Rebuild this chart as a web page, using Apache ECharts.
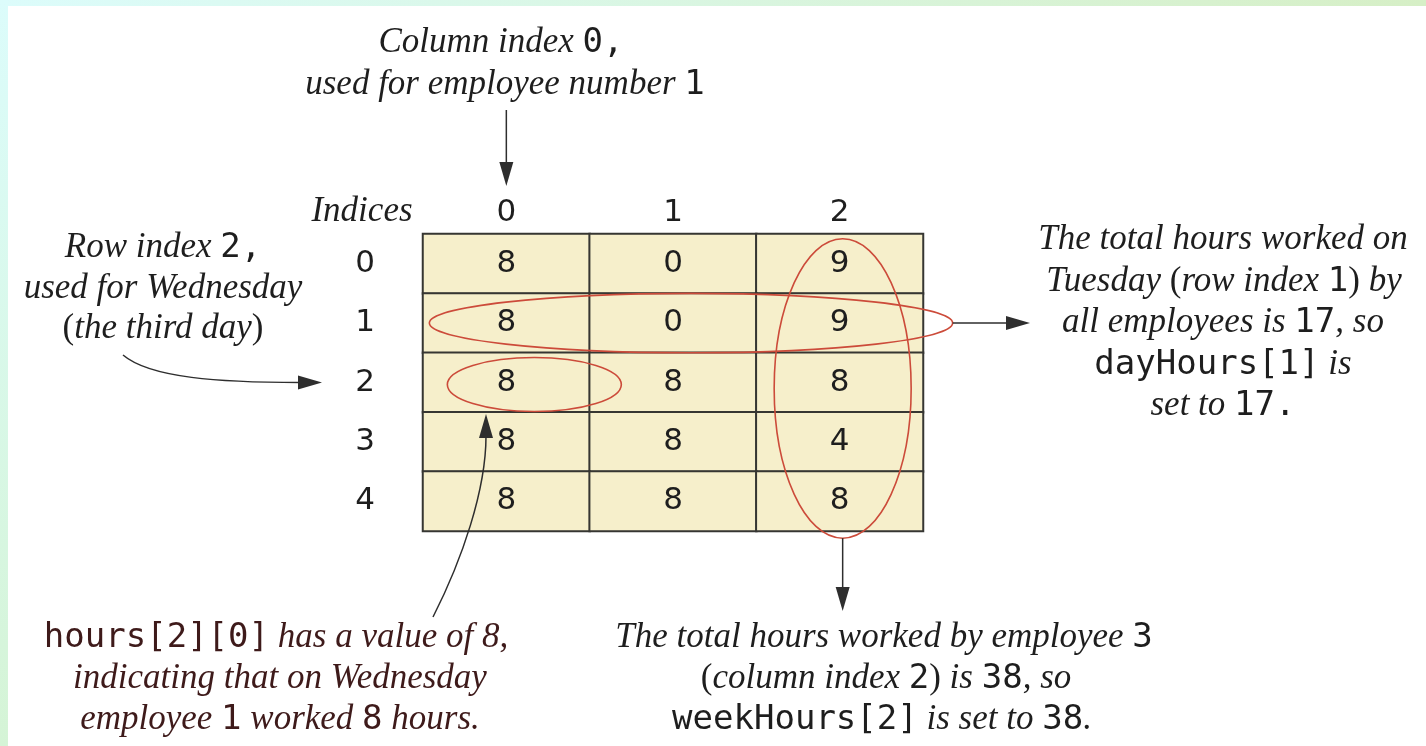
<!DOCTYPE html>
<html>
<head>
<meta charset="utf-8">
<title>hours array</title>
<script src="https://cdn.jsdelivr.net/npm/echarts@6/dist/echarts.min.js"></script>
<style>
  html, body { margin: 0; padding: 0; background: #fff; }
  #main { width: 1426px; height: 746px; }
</style>
</head>
<body>
<div id="main"></div>
<script>
// hours[row][col] : rows are days (index 0..4), cols are employees (index 0..2)
var hours = [
    [8, 0, 9],
    [8, 0, 9],
    [8, 8, 8],
    [8, 8, 4],
    [8, 8, 8]
];
var colLabels = ['0', '1', '2'];
var rowLabels = ['0', '1', '2', '3', '4'];

var dayRow = 1;     // row summed by dayHours[1]
var weekCol = 2;    // column summed by weekHours[2]
var pickRow = 2, pickCol = 0;   // hours[2][0]

var dayTotal = hours[dayRow].reduce(function (a, b) { return a + b; }, 0);
var weekTotal = hours.reduce(function (a, r) { return a + r[weekCol]; }, 0);

var cells = [];
hours.forEach(function (row, r) {
    row.forEach(function (v, c) { cells.push([c, r, v]); });
});

var SERIF = '"Liberation Serif", "DejaVu Serif", serif';
var MONO = '"DejaVu Sans Mono", monospace';
var SANS = '"DejaVu Sans", sans-serif';
var INK = '#1e1e1e';
var IT = 35, MO = 34;   // caption font sizes

var myChart = echarts.init(document.getElementById('main'));

myChart.setOption({
    backgroundColor: '#ffffff',
    animation: false,
    grid: { left: 423, top: 234, right: 503, bottom: 215 },
    xAxis: {
        type: 'category',
        position: 'top',
        data: colLabels,
        axisLine: { show: false },
        axisTick: { show: false },
        splitLine: { show: false },
        axisLabel: { fontFamily: SANS, fontSize: 31, color: INK, margin: 6 }
    },
    yAxis: {
        type: 'category',
        inverse: true,
        data: rowLabels,
        axisLine: { show: false },
        axisTick: { show: false },
        splitLine: { show: false },
        axisLabel: { fontFamily: SANS, fontSize: 31, color: INK, margin: 48 }
    },
    visualMap: {
        show: false,
        min: 0,
        max: 9,
        dimension: 2,
        inRange: { color: ['#f6efcb', '#f6efcb'] }
    },
    series: [{
        type: 'heatmap',
        data: cells,
        itemStyle: { borderColor: '#363632', borderWidth: 2 },
        label: {
            show: true,
            fontFamily: SANS,
            fontSize: 31,
            color: INK,
            formatter: function (p) { return String(p.value[2]); }
        },
        emphasis: { disabled: true }
    }]
});

// ---- annotations (ellipses, arrows, captions) ----
function px(c, r) { return myChart.convertToPixel({ gridIndex: 0 }, [c, r]); }
var bandW = px(1, 0)[0] - px(0, 0)[0];
var bandH = px(0, 1)[1] - px(0, 0)[1];

var RED = '#cc4b3a';
var ARROW = '#2e2e2e';

function ellipse(cx, cy, rx, ry) {
    return {
        type: 'ellipse', z: 10,
        shape: { cx: cx, cy: cy, rx: rx, ry: ry },
        style: { fill: null, stroke: RED, lineWidth: 1.6 }
    };
}
function head(tx, ty, dx, dy) {
    // triangle head pointing along (dx,dy), tip at (tx,ty)
    var len = Math.sqrt(dx * dx + dy * dy);
    var ux = dx / len, uy = dy / len;
    var L = 24, W = 7;
    var bx = tx - ux * L, by = ty - uy * L;
    return {
        type: 'polygon', z: 10,
        shape: { points: [[tx, ty], [bx - uy * W, by + ux * W], [bx + uy * W, by - ux * W]] },
        style: { fill: ARROW }
    };
}
function straight(x1, y1, x2, y2) {
    var dx = x2 - x1, dy = y2 - y1;
    var len = Math.sqrt(dx * dx + dy * dy);
    return [{
        type: 'line', z: 10,
        shape: { x1: x1, y1: y1, x2: x2 - dx / len * 20, y2: y2 - dy / len * 20 },
        style: { stroke: ARROW, lineWidth: 1.5 }
    }, head(x2, y2, dx, dy)];
}
function curved(x1, y1, c1x, c1y, c2x, c2y, x2, y2) {
    var d = Math.hypot(x2 - c2x, y2 - c2y);
    return [{
        type: 'bezierCurve', z: 10,
        shape: { x1: x1, y1: y1, cpx1: c1x, cpy1: c1y, cpx2: c2x, cpy2: c2y, x2: x2, y2: y2 },
        style: { fill: null, stroke: ARROW, lineWidth: 1.5 }
    }, head(x2 + (x2 - c2x) / d * 22, y2 + (y2 - c2y) / d * 22, x2 - c2x, y2 - c2y)];
}

function textLine(x, y, str, color) {
    var col = color || INK;
    return {
        type: 'text', z: 12,
        x: x, y: y,
        style: {
            text: str,
            align: 'center',
            verticalAlign: 'middle',
            fill: col,
            rich: {
                i: { fontFamily: SERIF, fontStyle: 'italic', fontSize: IT, fill: col },
                m: { fontFamily: MONO, fontSize: MO, fill: col },
                t: { fontFamily: SERIF, fontSize: IT, fill: col }
            }
        }
    };
}

var rowC = px(1, dayRow);
var pickC = px(pickCol, pickRow);
var colC = px(weekCol, 2);

var rowEll = { cx: rowC[0] + 18, cy: rowC[1], rx: bandW * 1.57, ry: bandH * 0.5 };
var pickEll = { cx: pickC[0] + 28, cy: pickC[1] + 2, rx: 87, ry: 27 };
var colEll = { cx: colC[0] + 3, cy: colC[1] + 6, rx: 68.5, ry: bandH * 2.52 };

var g = [];
// frame strips
g.push({
    type: 'rect', z: 0, shape: { x: 0, y: 0, width: 1426, height: 6 },
    style: { fill: new echarts.graphic.LinearGradient(0, 0, 1, 0, [
        { offset: 0, color: '#dcfcfb' }, { offset: 1, color: '#d6efc6' }]) }
});
g.push({
    type: 'rect', z: 0, shape: { x: 0, y: 0, width: 8, height: 746 },
    style: { fill: new echarts.graphic.LinearGradient(0, 0, 0, 1, [
        { offset: 0, color: '#dcfcfb' }, { offset: 1, color: '#d5f4d6' }]) }
});

g.push(ellipse(rowEll.cx, rowEll.cy, rowEll.rx, rowEll.ry));
g.push(ellipse(pickEll.cx, pickEll.cy, pickEll.rx, pickEll.ry));
g.push(ellipse(colEll.cx, colEll.cy, colEll.rx, colEll.ry));

var col0 = px(0, 0);
var row2 = px(0, 2);
g = g.concat(straight(col0[0], 110, col0[0], 186));
g = g.concat(straight(rowEll.cx + rowEll.rx, rowEll.cy, 1030, rowEll.cy));
g = g.concat(straight(colEll.cx, colEll.cy + colEll.ry, colEll.cx, 611));
g = g.concat(curved(123, 355, 150, 378, 220, row2[1], 300, row2[1]));
g = g.concat(curved(433, 617, 462, 560, 486, 490, 486, 436));

// captions
g.push(textLine(501, 43, '{i|Column index }{m|0,}'));
g.push(textLine(505, 85, '{i|used for employee number }{m|1}'));
g.push(textLine(362, 212, '{i|Indices}'));

g.push(textLine(163, 248, '{i|Row index }{m|2,}'));
g.push(textLine(163, 289, '{i|used for Wednesday}'));
g.push(textLine(163, 329, '{t|(}{i|the third day}{t|)}'));

g.push(textLine(1223, 240, '{i|The total hours worked on}'));
g.push(textLine(1224, 282, '{i|Tuesday }{t|(}{i|row index }{m|' + dayRow + '}{t|)}{i| by}'));
g.push(textLine(1223, 323, '{i|all employees is }{m|' + dayTotal + '}{i|, so}'));
g.push(textLine(1223, 365, '{m|dayHours[' + dayRow + ']}{i| is}'));
g.push(textLine(1223, 406, '{i|set to }{m|' + dayTotal + '.}'));

var MAROON = '#3e1a1a';
g.push(textLine(276, 638, '{m|hours[' + pickRow + '][' + pickCol + ']}{i| has a value of 8,}', MAROON));
g.push(textLine(280, 679, '{i|indicating that on Wednesday}', MAROON));
g.push(textLine(280, 720, '{i|employee }{m|1}{i| worked }{m|8}{i| hours.}', MAROON));

g.push(textLine(884, 638, '{i|The total hours worked by employee }{m|3}'));
g.push(textLine(886, 679, '{t|(}{i|column index }{m|' + weekCol + '}{t|)}{i| is }{m|' + weekTotal + '}{i|, so}'));
g.push(textLine(882, 720, '{m|weekHours[' + weekCol + ']}{i| is set to }{m|' + weekTotal + '}{i|.}'));

myChart.setOption({ graphic: g });
</script>
</body>
</html>
